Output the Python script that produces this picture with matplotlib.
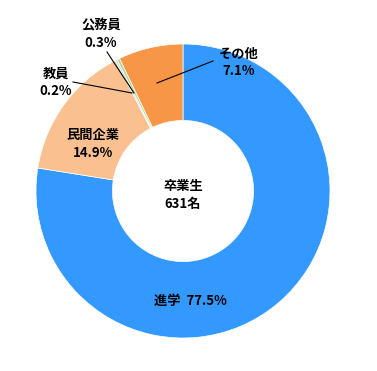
import matplotlib
matplotlib.use("Agg")
import matplotlib.pyplot as plt

categories = ["進学", "民間企業", "教員", "公務員", "その他"]
values = [77.5, 14.9, 0.2, 0.3, 7.1]
colors = ["#3399FF", "#FAC090", "#B9D3EE", "#B5D88A", "#F79646"]
center_title = "卒業生"
center_count = "631名"

plt.rcParams['font.family'] = ['Noto Sans CJK JP', 'DejaVu Sans']

fig = plt.figure(figsize=(3.77, 3.71), dpi=100)
ax = fig.add_axes([36/377, 33/371, 294/377, 294/371])

wedges, _ = ax.pie(values, colors=colors, startangle=90, counterclock=False,
                   radius=1.0, wedgeprops=dict(width=0.52, edgecolor='white', linewidth=0.5))
for w in wedges:
    w.set_clip_on(False)
ax.set_xlim(-1, 1)
ax.set_ylim(-1, 1)
ax.set_aspect('equal')
ax.axis('off')

fs = 9.5
kw = dict(ha='center', va='center', fontsize=fs, fontweight='bold', color='black')

def px(x, y):
    return ((x - 183) / 147, (191 - y) / 147)

# labels
ax.text(*px(190, 301), f"{categories[0]}  {values[0]}%", **kw)
ax.text(*px(93, 144), f"{categories[1]}\n{values[1]}%", linespacing=1.3, **kw)
ax.text(*px(56, 82), f"{categories[2]}\n{values[2]}%", linespacing=1.3, **kw)
ax.text(*px(101, 34), f"{categories[3]}\n{values[3]}%", linespacing=1.3, **kw)
ax.text(*px(239, 62), f"{categories[4]}\n{values[4]}%", linespacing=1.3, **kw)
ax.text(*px(183, 195), f"{center_title}\n{center_count}", linespacing=1.3, **kw)

# leader lines
for (x0, y0), (x1, y1) in [((73, 82), (132, 93)), ((107, 52), (134, 93)), ((213, 61), (157, 83))]:
    a = px(x0, y0); b = px(x1, y1)
    ax.plot([a[0], b[0]], [a[1], b[1]], color='black', lw=0.8, clip_on=False)

fig.savefig("out.png", dpi=100, facecolor='white')
